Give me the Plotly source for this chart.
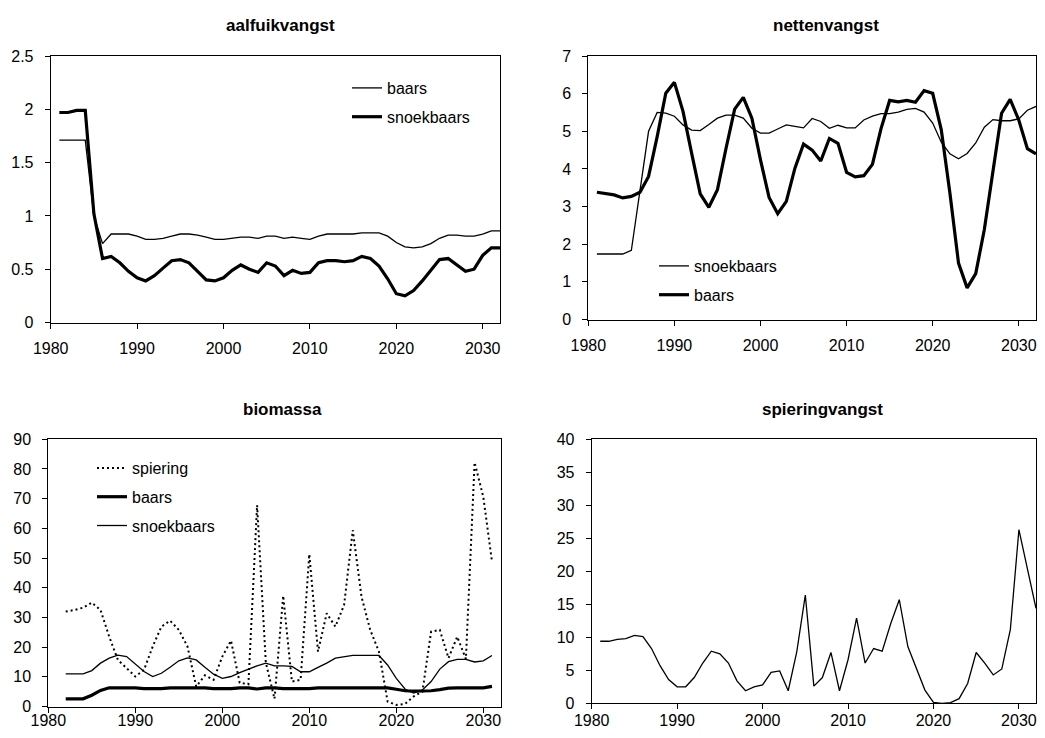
import plotly.graph_objects as go

# years on the x axis
years_full = list(range(1981, 2033))
years_bio = list(range(1982, 2032))

# aalfuikvangst
aalfuik_baars = [
    1.71, 1.71, 1.71, 1.71, 1.00, 0.74, 0.83, 0.83, 0.83, 0.81,
    0.78, 0.78, 0.79, 0.81, 0.83, 0.83, 0.82, 0.80, 0.78, 0.78,
    0.79, 0.80, 0.80, 0.79, 0.81, 0.81, 0.79, 0.80, 0.79, 0.78,
    0.81, 0.83, 0.83, 0.83, 0.83, 0.84, 0.84, 0.84, 0.81, 0.75,
    0.71, 0.70, 0.71, 0.74, 0.79, 0.82, 0.82, 0.81, 0.81, 0.83,
    0.86, 0.86,
]
aalfuik_snoekbaars = [
    1.97, 1.97, 1.99, 1.99, 1.02, 0.60, 0.62, 0.56, 0.48, 0.42,
    0.39, 0.44, 0.51, 0.58, 0.59, 0.56, 0.48, 0.40, 0.39, 0.42,
    0.49, 0.54, 0.50, 0.47, 0.56, 0.53, 0.44, 0.49, 0.46, 0.47,
    0.56, 0.58, 0.58, 0.57, 0.58, 0.62, 0.60, 0.53, 0.41, 0.27,
    0.25, 0.30, 0.39, 0.49, 0.59, 0.60, 0.54, 0.48, 0.50, 0.63,
    0.70, 0.70,
]

# nettenvangst
netten_snoekbaars = [
    1.74, 1.74, 1.74, 1.74, 1.84, 3.43, 5.00, 5.50, 5.48, 5.40,
    5.17, 5.03, 5.02, 5.18, 5.35, 5.43, 5.43, 5.35, 5.08, 4.95,
    4.95, 5.06, 5.17, 5.13, 5.09, 5.34, 5.26, 5.08, 5.16, 5.09,
    5.09, 5.30, 5.40, 5.47, 5.47, 5.51, 5.58, 5.61, 5.51, 5.22,
    4.71, 4.40, 4.27, 4.41, 4.69, 5.11, 5.31, 5.28, 5.28, 5.33,
    5.56, 5.66,
]
netten_baars = [
    3.38, 3.34, 3.31, 3.23, 3.27, 3.38, 3.80, 4.86, 6.01, 6.30,
    5.53, 4.42, 3.34, 2.98, 3.45, 4.55, 5.59, 5.90, 5.35, 4.24,
    3.24, 2.81, 3.14, 4.02, 4.66, 4.50, 4.21, 4.81, 4.68, 3.91,
    3.79, 3.82, 4.12, 5.07, 5.82, 5.78, 5.82, 5.77, 6.08, 6.01,
    5.04, 3.36, 1.50, 0.84, 1.22, 2.39, 3.89, 5.48, 5.85, 5.30,
    4.54, 4.40,
]

# biomassa
bio_spiering = [
    32.0, 32.5, 33.3, 35.0, 32.5, 23.5, 15.7, 12.9, 10.1, 12.3,
    20.2, 26.9, 28.9, 25.8, 20.2, 6.7, 10.5, 9.0, 16.8, 22.2,
    8.0, 7.5, 67.8, 14.8, 2.6, 37.3, 8.4, 9.0, 51.3, 18.5,
    31.4, 26.9, 34.2, 59.4, 37.0, 25.8, 18.5, 1.7, 0.5, 0.9,
    3.4, 5.0, 25.2, 25.8, 16.3, 23.5, 16.0, 82.2, 70.6, 48.8,
]
bio_baars = [
    2.6, 2.6, 2.6, 3.8, 5.4, 6.3, 6.3, 6.3, 6.3, 6.0,
    6.0, 6.0, 6.3, 6.3, 6.3, 6.3, 6.3, 6.0, 6.0, 6.0,
    6.3, 6.3, 5.9, 6.3, 6.3, 6.0, 6.0, 6.0, 6.0, 6.3,
    6.3, 6.3, 6.3, 6.3, 6.3, 6.3, 6.3, 6.3, 5.8, 5.3,
    5.2, 5.2, 5.3, 5.7, 6.2, 6.3, 6.3, 6.3, 6.3, 6.8,
]
bio_snoekbaars = [
    11.0, 11.0, 11.0, 12.1, 14.6, 16.3, 17.3, 16.8, 14.2, 11.8,
    10.1, 11.2, 13.2, 15.4, 16.4, 15.7, 13.2, 10.9, 9.5, 10.1,
    11.4, 12.6, 13.7, 14.6, 13.7, 13.7, 13.5, 11.7, 11.7, 13.2,
    14.6, 16.3, 16.8, 17.2, 17.2, 17.2, 17.2, 14.0, 9.5, 5.9,
    4.5, 5.6, 8.4, 12.6, 15.1, 15.9, 15.9, 15.0, 15.4, 17.2,
]

# spieringvangst
spiering_vangst = [
    9.4, 9.4, 9.7, 9.8, 10.3, 10.1, 8.3, 5.7, 3.6, 2.5,
    2.5, 3.9, 6.1, 7.9, 7.5, 6.1, 3.4, 1.9, 2.5, 2.8,
    4.7, 4.9, 1.9, 7.8, 16.4, 2.6, 3.9, 7.7, 1.9, 6.6,
    12.9, 6.1, 8.3, 7.9, 12.1, 15.7, 8.6, 5.4, 2.0, 0.15,
    0.0, 0.1, 0.7, 3.0, 7.7, 6.1, 4.3, 5.2, 11.2, 26.3,
    20.2, 14.4,
]

titles = ["aalfuikvangst", "nettenvangst", "biomassa", "spieringvangst"]
y_ranges = [[0, 2.5], [0, 7], [0, 90], [0, 40]]
y_dticks = [0.5, 1, 10, 5]

# the page body has an 8px margin all round; keep the figure inside it
PAD = 8
W, H = 1045 - 2 * PAD, 738 - 2 * PAD
FONT = "Arial, Liberation Sans, sans-serif"
THIN = 1.3
THICK = 3.2


def px_x(v):
    return (v - PAD) / W


def px_y(v):
    return 1 - (v - PAD) / H


# plot boxes in window pixels: left, right, top, bottom
boxes = [
    (50.7, 500.0, 56.0, 322.5),
    (588.3, 1036.0, 56.0, 319.5),
    (48.3, 500.7, 439.3, 706.5),
    (591.7, 1036.0, 439.3, 703.3),
]
# bottom row labels pulled up a little so they stay inside the page
x_label_standoff = [6, 6, -6, -3]

fig = go.Figure()


def line(x, y, name, width, axis, legend=None, dash="solid"):
    fig.add_trace(
        go.Scatter(
            x=x,
            y=y,
            mode="lines",
            name=name,
            line={"color": "black", "width": width, "dash": dash},
            xaxis="x" + axis,
            yaxis="y" + axis,
            legend=legend,
            legendgroup=(legend or "") + name,
            showlegend=legend is not None,
        )
    )


line(years_full, aalfuik_baars, "baars", THIN, "", "legend")
line(years_full, aalfuik_snoekbaars, "snoekbaars", THICK, "", "legend")
line(years_full, netten_snoekbaars, "snoekbaars", THIN, "2", "legend2")
line(years_full, netten_baars, "baars", THICK, "2", "legend2")
line(years_bio, bio_spiering, "spiering", 2, "3", "legend3", dash="2px,3px")
line(years_bio, bio_baars, "baars", THICK, "3", "legend3")
line(years_bio, bio_snoekbaars, "snoekbaars", THIN, "3", "legend3")
line(years_full, spiering_vangst, "spieringvangst", THIN, "4")

layout = {}
for i, (l, r, t, b) in enumerate(boxes):
    suffix = "" if i == 0 else str(i + 1)
    common = {
        "showline": True,
        "linecolor": "black",
        "linewidth": 1,
        "mirror": True,
        "showgrid": False,
        "zeroline": False,
        "ticks": "outside",
        "ticklen": 5,
        "tickcolor": "black",
        "tickfont": {"family": FONT, "size": 16, "color": "black"},
        "automargin": False,
    }
    layout["xaxis" + suffix] = dict(
        common,
        domain=[px_x(l), px_x(r)],
        range=[1980, 2032],
        tick0=1980,
        dtick=10,
        anchor="y" + suffix,
        ticklabelstandoff=x_label_standoff[i],
    )
    layout["yaxis" + suffix] = dict(
        common,
        domain=[px_y(b), px_y(t)],
        range=y_ranges[i],
        dtick=y_dticks[i],
        anchor="x" + suffix,
        ticklabelstandoff=8,
    )

title_pos = [(280, 26), (826, 26), (282, 409), (822, 409)]
annotations = [
    dict(
        text="<b>%s</b>" % txt,
        x=px_x(tx),
        y=px_y(ty),
        xref="paper",
        yref="paper",
        xanchor="center",
        yanchor="middle",
        showarrow=False,
        font={"family": FONT, "size": 17, "color": "black"},
    )
    for txt, (tx, ty) in zip(titles, title_pos)
]

legend_style = {
    "xanchor": "left",
    "yanchor": "top",
    "bgcolor": "rgba(0,0,0,0)",
    "font": {"family": FONT, "size": 16, "color": "black"},
    "traceorder": "grouped",
    "tracegroupgap": 5,
}

fig.update_layout(
    layout,
    width=W,
    height=H,
    margin={"l": 0, "r": 0, "t": 0, "b": 0},
    paper_bgcolor="white",
    plot_bgcolor="white",
    annotations=annotations,
    legend=dict(legend_style, x=px_x(347), y=px_y(71)),
    legend2=dict(legend_style, x=px_x(654), y=px_y(249)),
    legend3=dict(legend_style, x=px_x(92), y=px_y(451)),
)

fig.write_html("out.html")
